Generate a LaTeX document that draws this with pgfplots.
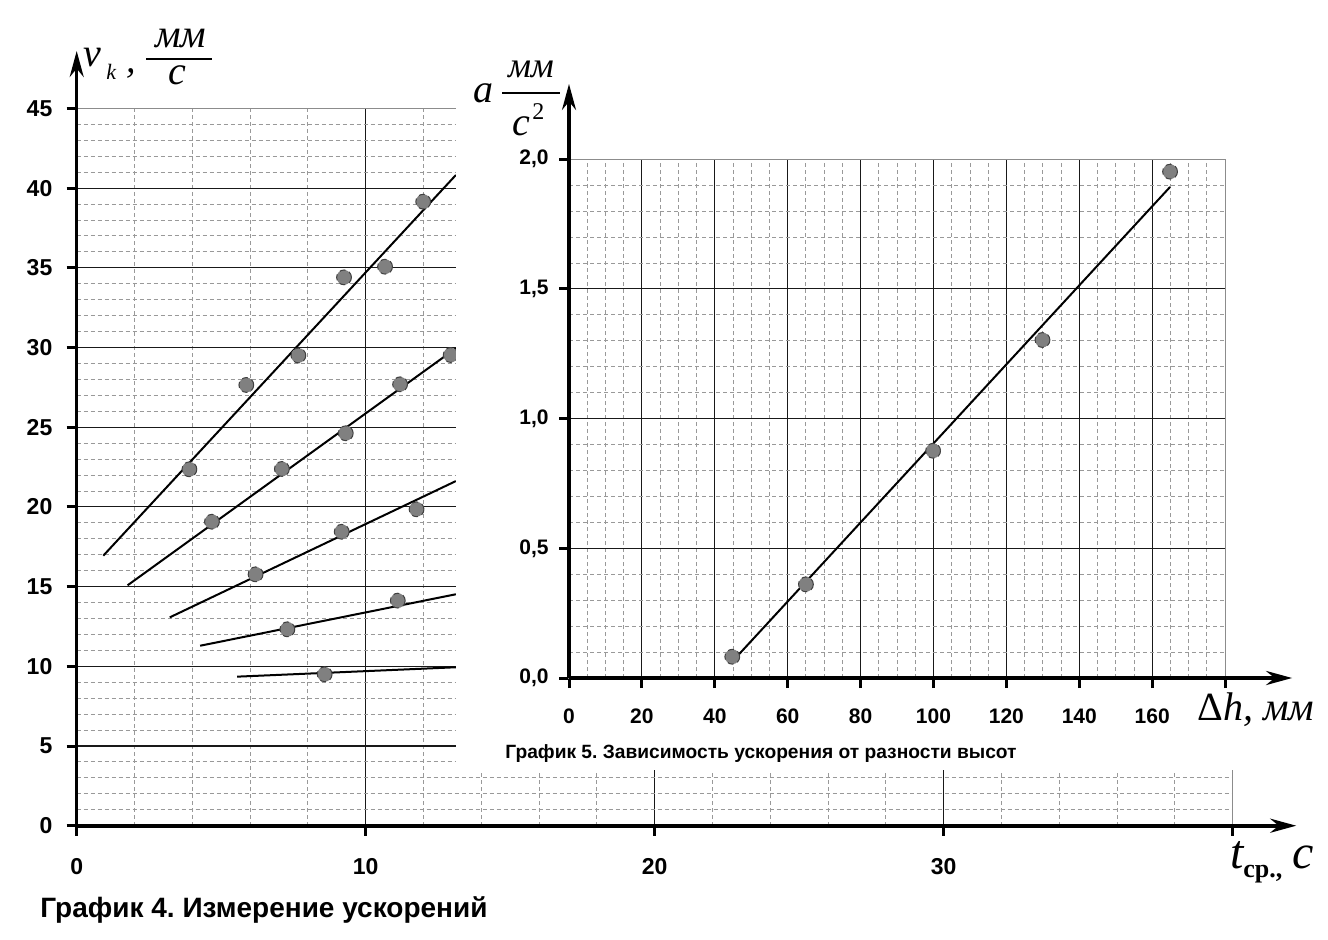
\documentclass[border=0pt]{standalone}
\usepackage{pgfplots}
\pgfplotsset{compat=1.18}
\usetikzlibrary{arrows.meta}
\usepackage{fontspec}
\setmainfont{Liberation Sans}
\newfontfamily\lserif{Liberation Serif}
\frenchspacing

\pgfplotsset{
 mygrid/.style={
  grid=both,
  major grid style={black!90, line width=0.55pt},
  minor grid style={black!40, line width=0.45pt, dash pattern=on 2pt off 1.5pt},
  axis line style={black!45, line width=0.6pt},
  tick align=outside,
  tick pos=left,
  major tick length=5pt,
  minor tick length=0pt,
  major tick style={black, line width=1.5pt},
  clip=false,
  /pgf/number format/assume math mode=true,
 },
 dot/.style={only marks, mark=*, mark size=3.7pt, mark options={fill=black!50, draw=black!75, line width=0.5pt, densely dashed}},
 fit/.style={black, line width=1pt, no marks},
}

\begin{document}
\begin{tikzpicture}
\useasboundingbox (0,0) rectangle (664pt,469.5pt);

% ---------------- Chart 4 ----------------
\begin{axis}[mygrid,
  anchor=origin, at={(38.35pt,56.65pt)},
  x=14.45pt, y=7.97pt,
  xmin=0, xmax=40, ymin=0, ymax=45,
  xtick={0,10,20,30,40}, xticklabels={0,10,20,30,{}},
  ytick={0,5,...,45},
  minor x tick num=4, minor y tick num=4,
  tick label style={font=\bfseries\fontsize{11.5}{12}\selectfont, inner sep=0pt},
  yticklabel style={anchor=east}, xticklabel style={anchor=north},
  yticklabel shift=7pt, xticklabel shift=11pt,
]
\addplot[fit] coordinates {(0.92,16.94) (13.12,40.82)};
\addplot[fit] coordinates {(1.76,15.08) (13.12,29.95)};
\addplot[fit] coordinates {(3.22,13.07) (13.12,21.62)};
\addplot[fit] coordinates {(4.27,11.29) (13.12,14.52)};
\addplot[fit] coordinates {(5.55,9.35) (13.12,9.94)};
\addplot[dot] coordinates {(3.90,22.36) (5.87,27.65) (7.67,29.50) (9.25,34.40) (10.67,35.07) (11.99,39.15) (13.40,38.00)};
\addplot[dot] coordinates {(4.68,19.07) (7.10,22.38) (9.31,24.62) (11.19,27.69) (12.94,29.53)};
\addplot[dot] coordinates {(6.19,15.77) (9.17,18.44) (11.76,19.85)};
\addplot[dot] coordinates {(7.29,12.32) (11.11,14.12)};
\addplot[dot] coordinates {(8.58,9.50)};
\draw[line width=2pt, -{Stealth[length=13pt,width=7pt]}] (axis cs:0,0) -- (axis cs:42.2,0);
\draw[line width=1.6pt, -{Stealth[length=13pt,width=7pt]}] (axis cs:0,0) -- (axis cs:0,48.6);
\end{axis}

% white panel behind chart 5
\fill[white] (228pt,84.5pt) rectangle (664pt,469.5pt);

% ---------------- Chart 5 ----------------
\begin{axis}[mygrid,
  anchor=origin, at={(284.5pt,130.5pt)},
  x=1.8225pt, y=129.7pt,
  xmin=0, xmax=180, ymin=0, ymax=2,
  xtick={0,20,...,180}, xticklabels={0,20,40,60,80,100,120,140,160,{}},
  ytick={0,0.5,1,1.5,2}, yticklabels={{0,0},{0,5},{1,0},{1,5},{2,0}},
  minor x tick num=3, minor y tick num=4,
  tick label style={font=\bfseries\fontsize{10.5}{11}\selectfont, inner sep=0pt},
  yticklabel style={anchor=east}, xticklabel style={anchor=north},
  yticklabel shift=5pt, xticklabel shift=10pt,
]
\addplot[fit] coordinates {(44.7,0.062) (164.9,1.893)};
\addplot[dot] coordinates {(44.8,0.082) (65.0,0.361) (99.9,0.876) (129.9,1.303) (164.9,1.952)};
\draw[line width=2pt, -{Stealth[length=13pt,width=7pt]}] (axis cs:0,0) -- (axis cs:198.4,0);
\draw[line width=1.6pt, -{Stealth[length=13pt,width=7pt]}] (axis cs:0,0) -- (axis cs:0,2.29);
\end{axis}

% ---------------- labels ----------------
% chart 4 y label
\node[anchor=base west, inner sep=0] at (41.5pt,436pt) {\lserif\itshape\fontsize{20}{20}\selectfont v};
\node[anchor=base west, inner sep=0] at (53pt,429.5pt) {\lserif\itshape\fontsize{11}{11}\selectfont k};
\node[anchor=base west, inner sep=0] at (63pt,433pt) {\lserif\itshape\fontsize{19}{19}\selectfont ,};
\node[anchor=base, inner sep=0] at (90.5pt,445.5pt) {\lserif\itshape\fontsize{20}{20}\selectfont мм};
\draw[line width=1pt] (73pt,440pt) -- (106pt,440pt);
\node[anchor=base, inner sep=0] at (88.5pt,427pt) {\lserif\itshape\fontsize{20}{20}\selectfont с};
% chart 5 y label
\node[anchor=base west, inner sep=0] at (236.5pt,418pt) {\lserif\itshape\fontsize{20}{20}\selectfont a};
\node[anchor=base, inner sep=0] at (265.5pt,430.5pt) {\lserif\itshape\fontsize{18}{18}\selectfont мм};
\draw[line width=1pt] (251pt,423pt) -- (280pt,423pt);
\node[anchor=base west, inner sep=0] at (256pt,401.5pt) {\lserif\itshape\fontsize{20}{20}\selectfont c};
\node[anchor=base west, inner sep=0] at (266pt,409.5pt) {\lserif\fontsize{12}{12}\selectfont 2};
% chart 4 x label
\node[anchor=base west, inner sep=0] at (615pt,35.5pt) {\lserif\itshape\fontsize{24}{24}\selectfont t};
\node[anchor=base west, inner sep=0] at (621.5pt,31pt) {\lserif\bfseries\fontsize{13}{13}\selectfont ср.,};
\node[anchor=base west, inner sep=0] at (646pt,35.5pt) {\lserif\itshape\fontsize{24}{24}\selectfont c};
% chart 5 x label
\node[anchor=base west, inner sep=0] at (598.5pt,109.5pt) {\lserif\fontsize{20}{20}\selectfont Δ\itshape h, мм};
% captions
\node[anchor=base west, inner sep=0] at (20pt,10.75pt) {\bfseries\fontsize{14}{14}\selectfont График 4. Измерение ускорений};
\node[anchor=base west, inner sep=0] at (252.5pt,90.5pt) {\bfseries\fontsize{9.6}{10}\selectfont График 5. Зависимость ускорения от разности высот};
\end{tikzpicture}
\end{document}
